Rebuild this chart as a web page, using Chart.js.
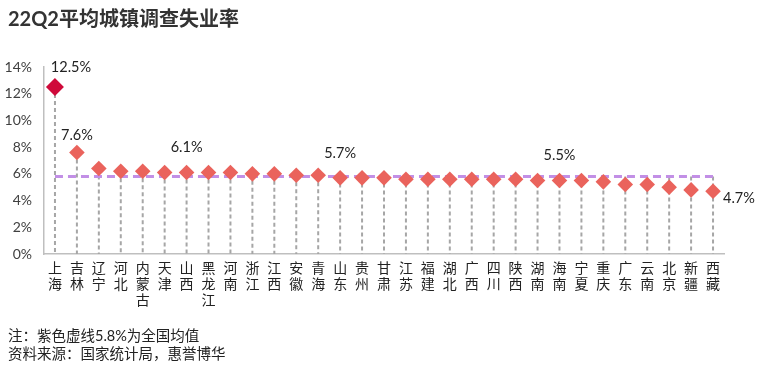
<!DOCTYPE html>
<html>
<head>
<meta charset="utf-8">
<script src="https://cdn.jsdelivr.net/npm/chart.js@4.4.1/dist/chart.umd.min.js"></script>
<style>
  body { margin: 0; width: 768px; height: 374px; position: relative; background: #fff; overflow: hidden;
         font-family: Lato, "Noto Sans CJK SC", sans-serif; }
  #title { position: absolute; left: 8px; top: 3px; font-size: 20px; font-weight: bold; color: #333; }
  #note { position: absolute; left: 8px; top: 327px; font-size: 14.5px; line-height: 18px; color: #222; }
  #wrap { position: absolute; left: 0; top: 0; width: 768px; height: 374px; }
</style>
</head>
<body>
<div id="wrap"><canvas id="rateChart" width="768" height="374"></canvas></div>
<div id="title">22Q2平均城镇调查失业率</div>
<div id="note">注：紫色虚线5.8%为全国均值<br>资料来源：国家统计局，惠誉博华</div>
<script>
// provinces, each label split into stacked characters
const provinces = [
  ['上','海'], ['吉','林'], ['辽','宁'], ['河','北'], ['内','蒙','古'], ['天','津'], ['山','西'],
  ['黑','龙','江'], ['河','南'], ['浙','江'], ['江','西'], ['安','徽'], ['青','海'], ['山','东'],
  ['贵','州'], ['甘','肃'], ['江','苏'], ['福','建'], ['湖','北'], ['广','西'], ['四','川'],
  ['陕','西'], ['湖','南'], ['海','南'], ['宁','夏'], ['重','庆'], ['广','东'], ['云','南'],
  ['北','京'], ['新','疆'], ['西','藏']
];
// 22Q2 average surveyed urban unemployment rate, %
const rates = [12.5, 7.6, 6.4, 6.2, 6.2, 6.1, 6.1, 6.1, 6.1, 6.0, 6.0, 5.9, 5.9, 5.7, 5.7, 5.7,
               5.6, 5.6, 5.6, 5.6, 5.6, 5.6, 5.5, 5.5, 5.5, 5.4, 5.2, 5.2, 5.0, 4.8, 4.7];
const nationalAvg = 5.8;
const avgLine = provinces.map(() => nationalAvg);
// which points get a value label
const labelledIdx = [0, 1, 6, 13, 23, 30];
const yTicks = [0, 2, 4, 6, 8, 10, 12, 14];

// label placement relative to its point (dx, dy, align)
const labelPlace = {
  0: [16, -20, 'center'], 1: [0, -17, 'center'], 6: [0, -25, 'center'],
  13: [0, -25, 'center'], 23: [0, -25, 'center'], 30: [10, 7, 'left']
};

const dropLines = {
  id: 'dropLines',
  beforeDatasetsDraw(chart) {
    const { ctx, scales: { x, y } } = chart;
    ctx.save();
    ctx.strokeStyle = '#a6a6a6';
    ctx.lineWidth = 2;
    ctx.setLineDash([4, 3]);
    rates.forEach((v, i) => {
      const px = x.getPixelForValue(i);
      ctx.beginPath();
      ctx.moveTo(px, y.getPixelForValue(Math.max(v, nationalAvg)));
      ctx.lineTo(px, y.getPixelForValue(0));
      ctx.stroke();
    });
    ctx.restore();
  }
};

const valueLabels = {
  id: 'valueLabels',
  afterDatasetsDraw(chart) {
    const { ctx, scales: { x, y } } = chart;
    ctx.save();
    ctx.font = '14.5px Lato, "Noto Sans CJK SC", sans-serif';
    ctx.fillStyle = '#222';
    ctx.textBaseline = 'middle';
    labelledIdx.forEach(i => {
      const [dx, dy, align] = labelPlace[i];
      ctx.textAlign = align;
      ctx.fillText(rates[i].toFixed(1) + '%', x.getPixelForValue(i) + dx, y.getPixelForValue(rates[i]) + dy);
    });
    ctx.restore();
  }
};

const ctx = document.getElementById('rateChart').getContext('2d');
new Chart(ctx, {
  type: 'line',
  data: {
    labels: provinces,
    datasets: [
      {
        label: '失业率',
        data: rates,
        showLine: false,
        pointStyle: 'rectRot',
        pointRadius: rates.map((v, i) => i === 0 ? 9 : 7.8),
        pointHoverRadius: rates.map((v, i) => i === 0 ? 9 : 7.8),
        pointBackgroundColor: rates.map((v, i) => i === 0 ? '#cf0a3a' : '#ea635c'),
        pointBorderWidth: 0,
        order: 0
      },
      {
        label: '全国均值',
        data: avgLine,
        borderColor: '#c28fe6',
        borderWidth: 3,
        borderDash: [8, 5],
        pointRadius: 0,
        fill: false,
        order: 1
      }
    ]
  },
  options: {
    responsive: false,
    animation: false,
    layout: { padding: { left: 0, right: 44, top: 67, bottom: 0 } },
    plugins: { legend: { display: false }, tooltip: { enabled: false } },
    scales: {
      x: {
        offset: true,
        grid: { display: false, drawTicks: false },
        border: { color: '#bfbfbf', width: 1.5 },
        ticks: {
          autoSkip: false, maxRotation: 0, padding: 7, color: '#222',
          font: { family: 'Lato, "Noto Sans CJK SC", sans-serif', size: 14, lineHeight: 1.12 }
        },
        afterFit(scale) { scale.height = 120; }
      },
      y: {
        min: 0, max: 14,
        afterBuildTicks(scale) { scale.ticks = yTicks.map(v => ({ value: v })); },
        grid: { display: false, drawTicks: false },
        border: { color: '#bfbfbf', width: 1.5 },
        ticks: {
          padding: 12, color: '#404040',
          font: { family: 'Lato, sans-serif', size: 14 },
          callback: v => v + '%'
        },
        afterFit(scale) { scale.width = 44; }
      }
    }
  },
  plugins: [dropLines, valueLabels]
});
</script>
</body>
</html>
